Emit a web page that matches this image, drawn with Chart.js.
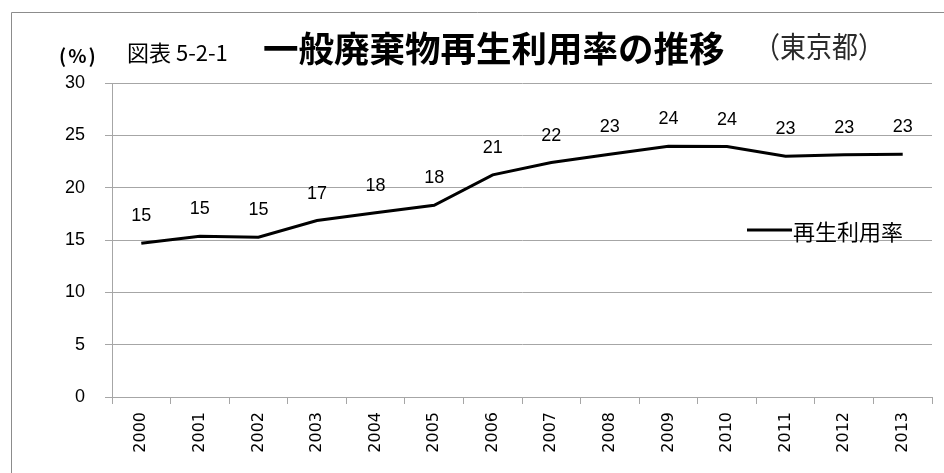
<!DOCTYPE html>
<html lang="ja">
<head>
<meta charset="utf-8">
<title>一般廃棄物再生利用率の推移</title>
<script src="https://cdn.jsdelivr.net/npm/chart.js@4.4.1/dist/chart.umd.min.js"></script>
<style>
  html, body { margin: 0; padding: 0; background: #fff; }
  #wrap { position: relative; width: 944px; height: 473px; overflow: hidden; }
  canvas { position: absolute; left: 0; top: 0; }
</style>
</head>
<body>
<div id="wrap">
  <canvas id="c" width="944" height="473"></canvas>
</div>
<script>
// Fiscal years on the horizontal axis
const years = ['2000', '2001', '2002', '2003', '2004', '2005', '2006',
               '2007', '2008', '2009', '2010', '2011', '2012', '2013'];
// Recycling rate of municipal solid waste, Tokyo (%)
const recycleRate = [14.7, 15.35, 15.26, 16.86, 17.6, 18.31, 21.22,
                     22.4, 23.2, 23.95, 23.93, 23.0, 23.15, 23.2];
const seriesName = '再生利用率';
// Vertical axis range and step (%)
const yMin = 0, yMax = 30, yStep = 5;

// Heading texts
const unitText = '(%)';
const figureNo = '図表 5-2-1';
const mainTitle = '一般廃棄物再生利用率の推移';
const areaText = '（東京都）';

const JP = '"Noto Sans CJK JP", sans-serif';

// Frame, heading row and legend drawn on the canvas
const decorations = {
  id: 'decorations',
  beforeDraw(chart) {
    const ctx = chart.ctx;
    ctx.save();
    ctx.fillStyle = '#fff';
    ctx.fillRect(0, 0, chart.width, chart.height);
    // outer frame (left and top edges visible)
    ctx.strokeStyle = '#8c8c8c';
    ctx.lineWidth = 1;
    ctx.beginPath();
    ctx.moveTo(11.5, chart.height);
    ctx.lineTo(11.5, 12.5);
    ctx.lineTo(chart.width, 12.5);
    ctx.stroke();
    ctx.restore();
  },
  afterDraw(chart) {
    const ctx = chart.ctx;
    ctx.save();
    ctx.textBaseline = 'alphabetic';
    ctx.textAlign = 'left';
    ctx.fillStyle = '#000';

    ctx.font = 'bold 19px ' + JP;
    ctx.letterSpacing = '2px';
    ctx.fillText(unitText, 59, 63);
    ctx.letterSpacing = '0px';

    ctx.font = '22px ' + JP;
    ctx.fillText(figureNo, 127, 61);

    ctx.font = 'bold 35.5px ' + JP;
    ctx.fillText(mainTitle, 263, 62);

    ctx.fillStyle = '#2a2a2a';
    ctx.font = '26px ' + JP;
    ctx.save();
    ctx.translate(754, 58);
    ctx.scale(1, 1.12);
    ctx.fillText(areaText, 0, 0);
    ctx.restore();

    // legend: line sample followed by the series name
    const ds = chart.data.datasets[0];
    ctx.strokeStyle = ds.borderColor;
    ctx.lineWidth = ds.borderWidth;
    ctx.beginPath();
    ctx.moveTo(747, 230);
    ctx.lineTo(792, 230);
    ctx.stroke();
    ctx.fillStyle = '#000';
    ctx.font = '22px ' + JP;
    ctx.fillText(ds.label, 793, 240);
    ctx.restore();
  }
};

// Writes the rounded value above each point of the line
const valueLabels = {
  id: 'valueLabels',
  afterDatasetsDraw(chart) {
    const ctx = chart.ctx;
    const meta = chart.getDatasetMeta(0);
    const data = chart.data.datasets[0].data;
    ctx.save();
    ctx.font = '18px "Liberation Sans", Arial, sans-serif';
    ctx.fillStyle = '#000';
    ctx.textAlign = 'center';
    ctx.textBaseline = 'middle';
    meta.data.forEach((pt, i) => {
      ctx.fillText(String(Math.round(data[i])), pt.x, pt.y - 27);
    });
    ctx.restore();
  }
};

new Chart(document.getElementById('c'), {
  type: 'line',
  data: {
    labels: years,
    datasets: [{
      label: seriesName,
      data: recycleRate,
      borderColor: '#000',
      borderWidth: 3,
      pointRadius: 0,
      pointHoverRadius: 0,
      tension: 0,
      fill: false
    }]
  },
  options: {
    responsive: false,
    animation: false,
    devicePixelRatio: 1,
    events: [],
    layout: { padding: { top: 83, right: 12, left: 0, bottom: 0 } },
    plugins: { legend: { display: false }, title: { display: false }, tooltip: { enabled: false } },
    scales: {
      x: {
        type: 'category',
        offset: true,
        grid: { offset: true, drawOnChartArea: false, drawTicks: true, tickLength: 7, color: '#a6a6a6', lineWidth: 1 },
        border: { color: '#a6a6a6', width: 1 },
        ticks: {
          minRotation: 90, maxRotation: 90, autoSkip: false, padding: 8,
          color: '#000', font: { family: '"DejaVu Sans", sans-serif', size: 16 }
        },
        afterFit(scale) { scale.height = 76; }
      },
      y: {
        min: yMin, max: yMax,
        grid: { color: '#a6a6a6', lineWidth: 1, tickLength: 7, drawTicks: true },
        border: { color: '#a6a6a6', width: 1 },
        ticks: {
          stepSize: yStep, padding: 20, color: '#000',
          font: { family: '"Liberation Sans", Arial, sans-serif', size: 18 }
        },
        afterFit(scale) { scale.width = 112; }
      }
    }
  },
  plugins: [decorations, valueLabels]
});
</script>
</body>
</html>
